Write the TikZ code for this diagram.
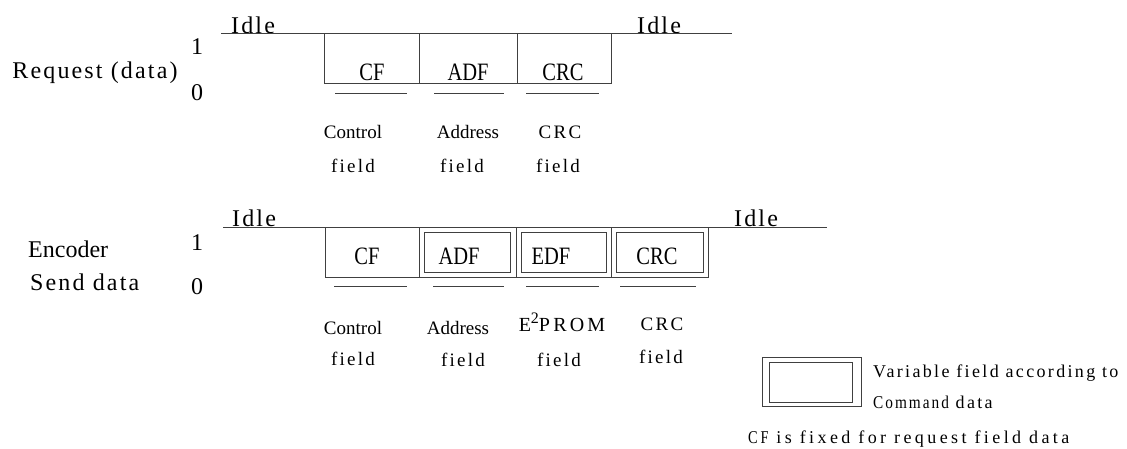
\documentclass[tikz,border=0pt]{standalone}
\usepackage{fontspec}
\setmainfont{Liberation Serif}
\newfontfamily\bigsp[LetterSpace=9]{Liberation Serif}
\newfontfamily\smsp[LetterSpace=12]{Liberation Serif}
\newfontfamily\legsp[LetterSpace=13]{Liberation Serif}
\newfontfamily\notesp[LetterSpace=19]{Liberation Serif}
\newfontfamily\eesp[LetterSpace=16]{Liberation Serif}
\newcommand\cnd[1]{\scalebox{0.82}[1]{#1}}
\begin{document}
\begin{tikzpicture}[x=1pt,y=-1pt,
  ln/.style={draw=black!75, line width=0.9pt},
  box/.style={draw=black!75, line width=0.9pt, inner sep=0pt, anchor=north west},
  big/.style={font=\bigsp\fontsize{24}{26}\selectfont, inner sep=0pt},
  sm/.style={font=\smsp\fontsize{19}{22}\selectfont, inner sep=0pt},
  fld/.style={font=\fontsize{25}{26}\selectfont, inner sep=0pt},
  lbl/.style={font=\fontsize{19}{22}\selectfont, inner sep=0pt},
  leg/.style={font=\legsp\fontsize{18}{20}\selectfont, inner sep=0pt, anchor=west}]
\path[use as bounding box] (0,0) rectangle (1127,448);

% ---------- Request (data) ----------
\node[big] (req) at (95,73) {Request (data)};
\node[big] (r1) at (197,47) {1};
\node[big] (r0) at (197,93) {0};
\node[big, anchor=west] (ridleL) at (231,25) {Idle};
\node[big, anchor=west] (ridleR) at (637,25) {Idle};
\coordinate (ra) at (221,33);
\coordinate (rb) at (732,33);
\draw[ln] (ra) -- (rb);

\node[box, minimum width=95pt, minimum height=50pt] (rcf) at (324,33) {};
\node[box, minimum width=98pt, minimum height=50pt] (radf) at (419,33) {};
\node[box, minimum width=94pt, minimum height=50pt] (rcrc) at (517,33) {};
\node[fld] (rcft) at (372,72) {\cnd{CF}};
\node[fld] (radft) at (468,72) {\cnd{ADF}};
\node[fld] (rcrct) at (563,72) {\cnd{CRC}};

\coordinate (ru1a) at (335,93); \coordinate (ru1b) at (407,93);
\coordinate (ru2a) at (434,93); \coordinate (ru2b) at (504,93);
\coordinate (ru3a) at (526,93); \coordinate (ru3b) at (599,93);
\draw[ln] (ru1a) -- (ru1b);
\draw[ln] (ru2a) -- (ru2b);
\draw[ln] (ru3a) -- (ru3b);

\node[lbl] (rc1) at (353,132) {Control};
\node[sm] (rc2) at (353,166) {field};
\node[lbl] (ra1) at (468,132) {Address};
\node[sm] (ra2) at (462,166) {field};
\node[sm] (rr1) at (560,132) {CRC};
\node[sm] (rr2) at (558,166) {field};

% ---------- Encoder Send data ----------
\node[font=\fontsize{24}{26}\selectfont, inner sep=0pt, anchor=west] (enc) at (28,249) {Encoder};
\node[big, anchor=west] (snd) at (30,282) {Send data};
\node[big] (e1) at (197,243) {1};
\node[big] (e0) at (197,287) {0};
\node[big, anchor=west] (eidleL) at (232,218) {Idle};
\node[big, anchor=west] (eidleR) at (734,218) {Idle};
\coordinate (ea) at (223,227);
\coordinate (eb) at (827,227);
\draw[ln] (ea) -- (eb);

\node[box, minimum width=94pt, minimum height=50pt] (ecf) at (325,227) {};
\node[box, minimum width=97pt, minimum height=50pt] (eadf) at (419,227) {};
\node[box, minimum width=95pt, minimum height=50pt] (eedf) at (516,227) {};
\node[box, minimum width=97pt, minimum height=50pt] (ecrc) at (611,227) {};
\node[box, minimum width=86pt, minimum height=40pt] (eadfi) at (424,232) {};
\node[box, minimum width=85pt, minimum height=40pt] (eedfi) at (521,232) {};
\node[box, minimum width=87pt, minimum height=40pt] (ecrci) at (616,232) {};
\node[fld] (ecft) at (367,256) {\cnd{CF}};
\node[fld] (eadft) at (459,256) {\cnd{ADF}};
\node[fld] (eedft) at (551,256) {\cnd{EDF}};
\node[fld] (ecrct) at (657,256) {\cnd{CRC}};

\coordinate (eu1a) at (334,286); \coordinate (eu1b) at (407,286);
\coordinate (eu2a) at (433,286); \coordinate (eu2b) at (504,286);
\coordinate (eu3a) at (526,286); \coordinate (eu3b) at (599,286);
\coordinate (eu4a) at (620,286); \coordinate (eu4b) at (696,286);
\draw[ln] (eu1a) -- (eu1b);
\draw[ln] (eu2a) -- (eu2b);
\draw[ln] (eu3a) -- (eu3b);
\draw[ln] (eu4a) -- (eu4b);

\node[lbl] (ec1) at (353,328) {Control};
\node[sm] (ec2) at (353,359) {field};
\node[lbl] (ea1) at (458,328) {Address};
\node[sm] (ea2) at (463,360) {field};
\node[font=\eesp\fontsize{20}{22}\selectfont, inner sep=0pt] (ee1) at (562,322) {E\raisebox{8pt}{\fontsize{16}{16}\selectfont 2}PROM};
\node[sm] (ee2) at (559,360) {field};
\node[sm] (er1) at (662,324) {CRC};
\node[sm] (er2) at (661,357) {field};

% ---------- Legend ----------
\node[box, minimum width=99pt, minimum height=49pt] (lego) at (762,357) {};
\node[box, minimum width=83pt, minimum height=40pt] (legi) at (769,362) {};
\node[leg] (legt1) at (873,373) {Variable field according to};
\node[leg] (legt2) at (873,402) {\scalebox{0.85}[1]{Command} data};
\node[leg, font=\notesp\fontsize{18}{20}\selectfont] (note) at (748,439) {\scalebox{0.8}[1]{CF} is fixed for request field data};
\end{tikzpicture}
\end{document}
